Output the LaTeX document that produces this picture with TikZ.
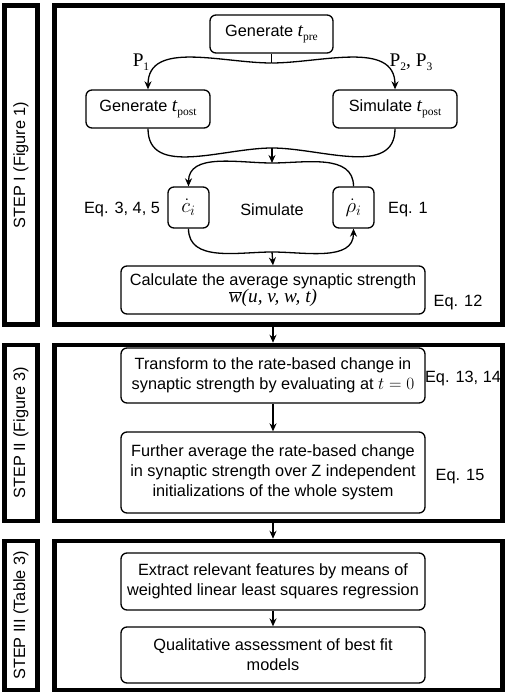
\documentclass[tikz,border=0pt]{standalone}
\usepackage{fontspec}
\setmainfont{Liberation Sans}
\newfontfamily\tmsfont{Liberation Serif}
\newcommand{\tms}{\tmsfont\fontsize{19.3}{20}\selectfont}
\newcommand{\tv}[1]{{\tms\itshape #1}}
\newcommand{\tsub}[1]{\raisebox{-0.4ex}{\tmsfont\fontsize{11.5}{12}\selectfont #1}}
\usetikzlibrary{arrows.meta}

\begin{document}
\begin{tikzpicture}[x=1pt,y=-1pt,
  font=\fontsize{16.3}{20}\selectfont,
  >={Stealth[length=8pt,width=7pt]},
  stepbox/.style={draw,rounded corners=6pt,line width=1.3pt,align=center,inner sep=2pt},
  frame/.style={draw,line width=4.5pt,inner sep=0pt},
  flow/.style={line width=1.3pt},
  eq/.style={inner sep=0pt,align=left}]

\useasboundingbox (0,0) rectangle (510,700);

% the three step frames
\node[frame,minimum width=448pt,minimum height=319pt] (s1) at (278.5,165) {};
\node[frame,minimum width=448pt,minimum height=176pt] (s2) at (278.5,433) {};
\node[frame,minimum width=448pt,minimum height=149pt] (s3) at (278.5,615.5) {};
\node[frame,rotate=90,minimum width=319pt,minimum height=33pt] (l1) at (21,165) {STEP I (Figure 1)};
\node[frame,rotate=90,minimum width=176pt,minimum height=33pt] (l2) at (21,433) {STEP II (Figure 3)};
\node[frame,rotate=90,minimum width=149pt,minimum height=33pt] (l3) at (21,615.5) {STEP III (Table 3)};

% step I
\node[stepbox,minimum width=123pt,minimum height=38pt] (pre) at (271.5,34) {Generate \tv{t}\tsub{pre}};
\node[stepbox,minimum width=124pt,minimum height=38pt] (gen) at (148,109) {Generate \tv{t}\tsub{post}};
\node[stepbox,minimum width=124pt,minimum height=38pt] (sim) at (395,109) {Simulate \tv{t}\tsub{post}};
\node[stepbox,minimum width=41pt,minimum height=41pt,font=\fontsize{20}{20}\selectfont] (ci) at (188.5,207.5) {$\dot{c}_i$};
\node[stepbox,minimum width=41pt,minimum height=41pt,font=\fontsize{20}{20}\selectfont] (rho) at (353.5,207.5) {$\dot{\rho}_i$};
\node[stepbox,minimum width=304pt,minimum height=48pt] (calc) at (273,290) {Calculate the average synaptic strength\\[-3pt]{\tms$\overline{\mbox{\tv{w}}}$}\tv{(u, v, w, t)}};

\node[eq] (p1) at (141,62) {\tms P\tsub{1}};
\node[eq] (p23) at (411,62) {\tms P\tsub{2}, P\tsub{3}};
\node[eq] (simlab) at (272,210) {Simulate};
\node[eq] (eqc) at (122,210) {Eq. 3, 4, 5};
\node[eq] (eqr) at (408,210) {Eq. 1};
\node[eq] (eq12) at (458,302) {Eq. 12};

\coordinate (split) at (271.5,63);
\coordinate (merge) at (272,148);
\coordinate (arctop) at (272,163);
\coordinate (arclow) at (272,252);

\draw[flow] (pre) -- (split);
\draw[flow,->] (split) to[out=180,in=90] (gen.north);
\draw[flow,->] (split) to[out=0,in=90] (sim.north);
\draw[flow] (gen.south) to[out=-90,in=180] (merge);
\draw[flow] (sim.south) to[out=-90,in=0] (merge);
\draw[flow,->] (merge) -- (arctop);
\draw[flow,->] (rho.north) to[out=90,in=0] (arctop) to[out=180,in=90] (ci.north);
\draw[flow,->] (ci.south) to[out=-90,in=180] (arclow) to[out=0,in=-90] (rho.south);
\draw[flow,->] (arclow) -- (calc.north);

% step II
\node[stepbox,minimum width=304pt,minimum height=55pt] (trans) at (273,375.5) {Transform to the rate-based change in\\synaptic strength by evaluating at {\fontsize{17}{20}\selectfont$t=0$}};
\node[stepbox,minimum width=304pt,minimum height=81pt] (further) at (273,472.5) {Further average the rate-based change\\in synaptic strength over Z independent\\initializations of the whole system};
\node[eq] (eq1314) at (463,378) {Eq. 13, 14};
\node[eq] (eq15) at (460,477) {Eq. 15};

\draw[flow,->] (calc.south |- s1.south) -- (calc.south |- s2.north);
\draw[flow,->] (trans) -- (further);

% step III
\node[stepbox,minimum width=304pt,minimum height=57pt] (extract) at (273,581.5) {Extract relevant features by means of\\weighted linear least squares regression};
\node[stepbox,minimum width=304pt,minimum height=56pt] (qual) at (273,655) {Qualitative assessment of best fit\\models};

\draw[flow,->] (further.south |- s2.south) -- (further.south |- s3.north);
\draw[flow,->] (extract) -- (qual);
\end{tikzpicture}
\end{document}
